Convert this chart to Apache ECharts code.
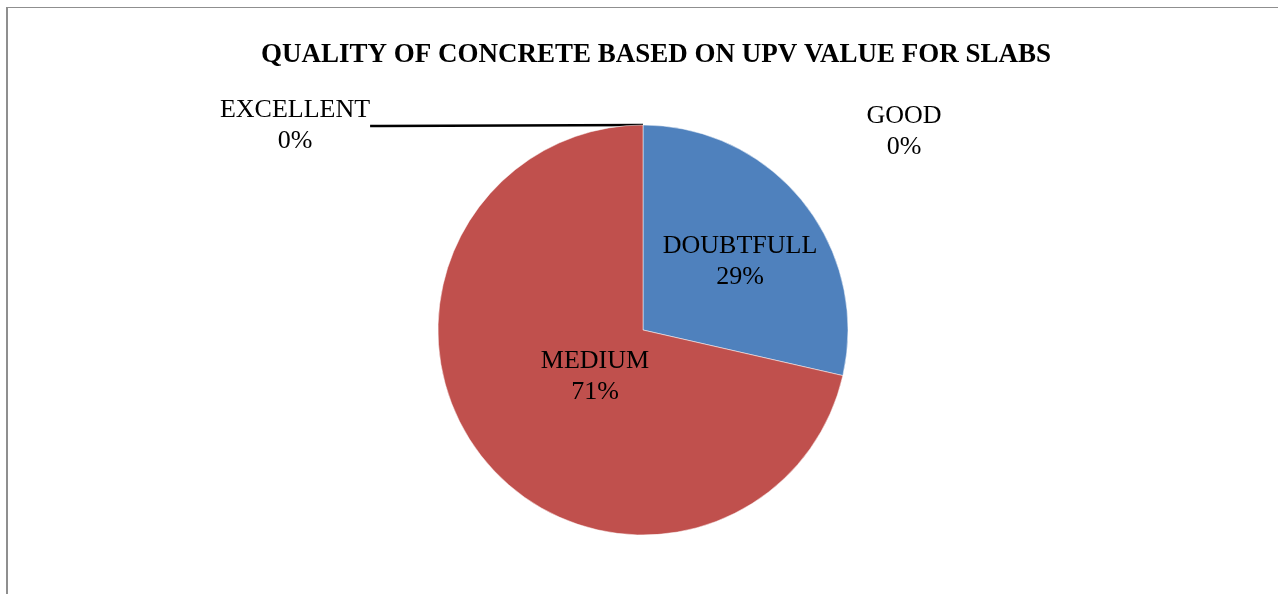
<!DOCTYPE html>
<html>
<head>
<meta charset="utf-8">
<script src="https://cdn.jsdelivr.net/npm/echarts@6/dist/echarts.min.js"></script>
<style>
  html, body { margin: 0; padding: 0; background: #fff; }
  #chart { position: absolute; left: 0; top: 0; width: 1278px; height: 594px; }
  #frame { position: absolute; left: 6px; top: 7px; width: 1272px; height: 587px;
           border-left: 2px solid #8f8f8f; border-top: 1px solid #8f8f8f; pointer-events: none; }
</style>
</head>
<body>
<div id="chart"></div>
<div id="frame"></div>
<script>
// chart data
const categories = ['EXCELLENT', 'GOOD', 'DOUBTFULL', 'MEDIUM'];
const counts = [0, 0, 4, 10];
const colors = ['#9BBB59', '#8064A2', '#4F81BD', '#C0504D'];

// where each label sits (layout, not data)
const labelSpots = [[295, 126], [904, 132], [740, 262], [595, 377]];

const chart = echarts.init(document.getElementById('chart'));

const option = {
  animation: false,
  title: {
    text: 'QUALITY OF CONCRETE BASED ON UPV VALUE FOR SLABS',
    left: 651,
    top: 37,
    textAlign: 'center',
    textStyle: {
      fontFamily: 'Liberation Serif',
      fontWeight: 'bold',
      fontSize: 27,
      color: '#000'
    }
  },
  series: [
    {
      type: 'pie',
      center: [643, 330],
      radius: 205,
      startAngle: 90,
      clockwise: true,
      avoidLabelOverlap: false,
      percentPrecision: 0,
      itemStyle: { borderColor: '#fff', borderWidth: 0.5 },
      label: {
        show: true,
        position: 'inside',
        formatter: '{b}\n{d}%',
        fontFamily: 'Liberation Serif',
        fontSize: 26,
        lineHeight: 31,
        color: '#000'
      },
      labelLine: { show: false },
      labelLayout: function (p) {
        const s = labelSpots[p.dataIndex];
        return { x: s[0], y: s[1], align: 'center', verticalAlign: 'middle' };
      },
      data: categories.map(function (name, i) {
        const item = { name: name, value: counts[i], itemStyle: { color: colors[i] } };
        if (i === 0) {
          item.label = { position: 'outside' };
          item.labelLine = { show: true, length: 10, length2: 10, lineStyle: { color: '#000', width: 2.5 } };
        } else if (i === 1) {
          item.label = { position: 'outside' };
          item.labelLine = { show: false };
        }
        return item;
      })
    }
  ]
};

chart.setOption(option);
</script>
</body>
</html>
